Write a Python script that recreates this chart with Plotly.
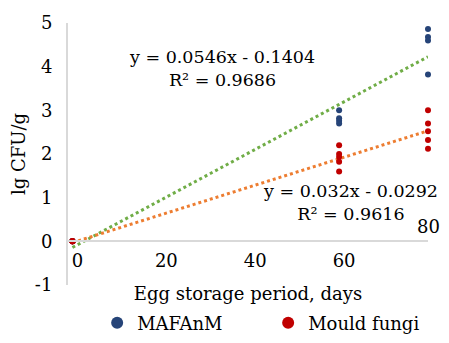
import plotly.graph_objects as go

# Data
maf_x = [0, 0, 0, 0, 60, 60, 60, 60, 80, 80, 80, 80]
maf_y = [0, 0, 0, 0, 3.0, 2.82, 2.76, 2.7, 4.86, 4.68, 4.6, 3.82]
mould_x = [0, 0, 0, 0, 0, 60, 60, 60, 60, 60, 80, 80, 80, 80, 80]
mould_y = [0, 0, 0, 0, 0, 2.2, 2.0, 1.93, 1.82, 1.6, 3.0, 2.7, 2.52, 2.32, 2.12]
maf_fit = (0.0546, -0.1404)
mould_fit = (0.032, -0.0292)
fit_x = [0, 80]
x_ticks = [0, 20, 40, 60]
y_ticks = [-1, 0, 1, 2, 3, 4, 5]
y_tick_text = ["-1", "0", "1", "2", "3", "4", "5"]

FONT = "DejaVu Serif"
FS = 18
fig = go.Figure()

fig.add_trace(go.Scatter(x=fit_x, y=[maf_fit[0] * v + maf_fit[1] for v in fit_x], mode="lines",
                         line=dict(color="#70AD47", width=3, dash="dot"), showlegend=False,
                         hoverinfo="skip", cliponaxis=False))
fig.add_trace(go.Scatter(x=fit_x, y=[mould_fit[0] * v + mould_fit[1] for v in fit_x], mode="lines",
                         line=dict(color="#ED7D31", width=3, dash="dot"), showlegend=False,
                         hoverinfo="skip", cliponaxis=False))
fig.add_trace(go.Scatter(x=maf_x, y=maf_y, mode="markers", name="MAFAnM", legend="legend",
                         marker=dict(color="#264478", size=6), cliponaxis=False))
fig.add_trace(go.Scatter(x=mould_x, y=mould_y, mode="markers", name="Mould fungi", legend="legend2",
                         marker=dict(color="#C00000", size=6), cliponaxis=False))

fig.add_annotation(x=33.7, y=3.96, xref="x", yref="y", text="y = 0.0546x - 0.1404<br>R² = 0.9686",
                   showarrow=False, font=dict(family=FONT, size=17.5, color="#000"), align="center")
fig.add_annotation(x=62.6, y=0.89, xref="x", yref="y", text="y = 0.032x - 0.0292<br>R² = 0.9616",
                   showarrow=False, font=dict(family=FONT, size=17.5, color="#000"), align="center")
fig.add_annotation(x=1.0, y=(241 - 226) / 262 + 1 / 6, xref="paper", yref="paper", text="80",
                   xanchor="center", yanchor="middle",
                   showarrow=False, font=dict(family=FONT, size=FS, color="#000"))

leg_common = dict(orientation="h", y=-0.145, yanchor="middle", xanchor="left",
                  font=dict(family=FONT, size=FS), itemsizing="constant", itemwidth=30,
                  bgcolor="rgba(0,0,0,0)")

# the page body adds an 8px offset, so the figure is 8px smaller and margins compensate
fig.update_layout(
    width=441, height=335,
    margin=dict(l=60, r=21, t=15, b=58, autoexpand=False),
    paper_bgcolor="white", plot_bgcolor="white",
    font=dict(family=FONT, size=FS, color="#000"),
    showlegend=True,
    legend=dict(x=0.081, **leg_common),
    legend2=dict(x=0.556, **leg_common),
    xaxis=dict(range=[-1, 80], tickvals=x_ticks, showgrid=False, zeroline=False,
               showline=True, linecolor="#D9D9D9", linewidth=2, automargin=False,
               anchor="free", position=1/6, ticklabelshift=5, ticklabelstandoff=3,
               title=dict(text="Egg storage period, days", standoff=16, font=dict(family=FONT, size=FS))),
    yaxis=dict(range=[-1, 5], tickvals=y_ticks, ticktext=y_tick_text, showgrid=False, zeroline=False,
               automargin=False, showline=True, linecolor="#D9D9D9", linewidth=2, ticklabelstandoff=10,
               title=dict(text="lg CFU/g", standoff=10, font=dict(family=FONT, size=FS))),
)

fig.write_html("out.html")
